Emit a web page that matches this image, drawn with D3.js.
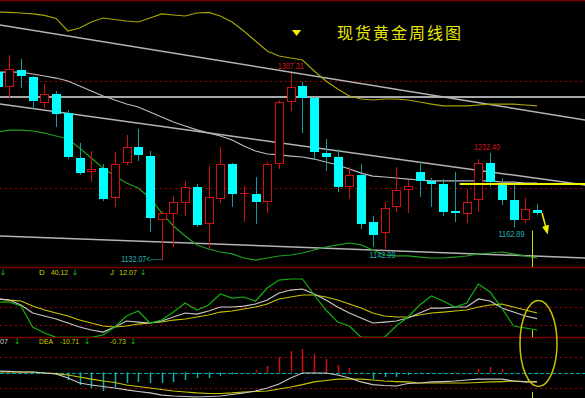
<!DOCTYPE html>
<html>
<head>
<meta charset="utf-8">
<script src="https://cdn.jsdelivr.net/npm/d3@7"></script>
<style>
html, body { margin: 0; padding: 0; background: #000; overflow: hidden; }
</style>
</head>
<body>
<div id="chart"></div>
<script>
// weekly candles, spot gold
const opens = [1308.2,1294.2,1310.1,1303.6,1279.3,1287.7,1269.9,1227.9,1214.8,1218.5,1190.5,1223.2,1238.1,1229.7,1169.9,1175.5,1185.8,1200.8,1166.2,1189.5,1222.3,1194.8,1194.2,1186.7,1222.3,1280.2,1295.2,1283.9,1232.5,1228.8,1200.8,1212.0,1168.0,1157.8,1182.1,1198.0,1214.8,1206.4,1203.6,1178.3,1175.5,1188.6,1223.2,1204.5,1188.6,1169.9,1179.3];
const highs = [1310.1,1324.1,1320.4,1304.5,1297.0,1290.5,1272.7,1241.9,1234.4,1222.3,1233.5,1249.4,1255.0,1234.4,1178.3,1192.3,1206.4,1203.6,1220.4,1238.1,1223.2,1201.7,1210.1,1224.1,1282.1,1307.31,1298.9,1284.9,1245.6,1236.3,1219.4,1222.3,1173.7,1186.7,1219.4,1207.3,1224.1,1209.2,1208.2,1214.8,1198.9,1226.9,1232.40,1209.2,1202.6,1190.5,1184.9];
const lows = [1291.4,1283.0,1293.3,1273.7,1274.6,1256.8,1226.9,1212.0,1205.4,1187.7,1182.1,1221.3,1225.1,1158.7,1132.07,1144.7,1173.7,1163.4,1143.5,1185.8,1182.1,1168.0,1166.2,1176.5,1217.6,1271.8,1251.2,1226.9,1215.7,1196.1,1189.5,1161.5,1144.7,1142.99,1177.4,1176.5,1191.4,1182.1,1173.7,1168.0,1167.1,1177.4,1200.8,1183.9,1162.89,1167.1,1174.6];
const closes = [1294.2,1311.0,1304.5,1281.1,1287.7,1269.0,1228.8,1213.8,1217.6,1189.5,1222.3,1238.1,1230.7,1171.8,1176.5,1186.7,1200.8,1165.2,1191.4,1222.3,1194.2,1195.2,1186.7,1222.3,1280.2,1294.2,1283.9,1233.5,1228.8,1200.8,1212.0,1166.2,1155.9,1181.1,1198.0,1201.7,1206.4,1203.6,1177.4,1176.5,1186.7,1223.2,1205.4,1188.6,1169.9,1180.2,1176.5];

// overlay curves on the price panel
const bandUpper = [1364.3,1363.9,1363.4,1362.5,1361.1,1358.3,1346.6,1349.4,1355.0,1358.7,1357.3,1355.9,1355.0,1358.7,1362.5,1361.5,1360.6,1363.4,1363.9,1360.6,1355.0,1346.6,1337.2,1327.9,1323.2,1321.3,1319.5,1309.2,1299.8,1292.4,1285.8,1283.0,1282.1,1283.0,1283.0,1282.1,1280.2,1278.3,1276.5,1276.5,1276.5,1277.4,1278.3,1278.3,1278.3,1277.4,1276.5];
const bandMid = [1308.2,1308.2,1308.2,1306.4,1304.5,1302.6,1299.8,1295.2,1290.5,1285.8,1282.1,1278.3,1275.5,1270.9,1266.2,1261.5,1257.8,1254.1,1251.2,1248.4,1244.7,1239.1,1234.4,1231.6,1230.7,1229.7,1228.8,1226.9,1224.1,1221.3,1217.6,1213.8,1211.0,1210.1,1209.2,1208.2,1207.3,1206.4,1206.4,1206.4,1206.4,1206.4,1206.4,1205.4,1205.4,1204.5,1204.5];
const bandLower = [1252.2,1254.0,1254.0,1253.1,1251.2,1248.4,1245.6,1237.2,1227.9,1218.5,1211.0,1204.5,1199.8,1190.5,1176.5,1164.3,1155.0,1146.6,1142.8,1140.0,1138.2,1134.4,1132.5,1134.4,1136.3,1137.2,1139.1,1141.9,1144.7,1146.6,1148.4,1146.6,1141.9,1137.2,1136.3,1136.3,1135.3,1134.4,1134.4,1135.3,1136.3,1138.2,1139.1,1140.0,1138.2,1136.3,1134.4];

// KDJ
const kVals = [63.2,61.5,53.3,40.1,35.1,30.2,23.6,17.0,12.0,8.7,17.0,26.9,25.2,23.6,26.9,33.5,40.1,38.4,43.4,50.0,50.0,51.6,54.9,61.5,73.1,78.0,79.7,71.4,61.5,50.0,40.1,31.8,23.6,25.2,26.9,31.8,40.1,48.3,48.3,50.0,50.0,63.2,59.9,48.3,41.7,35.1,30.77];
const dVals = [63.2,61.5,59.9,51.6,45.0,40.1,35.1,28.5,23.6,18.6,17.0,18.6,21.9,23.6,25.2,28.5,30.2,33.5,36.8,41.7,43.4,46.7,50.0,54.9,63.2,66.5,69.8,69.8,66.5,61.5,54.9,48.3,40.1,35.1,33.5,33.5,36.8,40.1,41.7,43.4,45.0,50.0,53.3,54.9,50.0,45.0,40.12];
const jVals = [58.2,58.2,51.6,17.0,7.1,0,0,0,0,3.8,17.0,35.1,43.4,23.6,28.5,41.7,56.6,45.0,53.3,71.4,64.8,66.5,59.9,81.3,94.5,96.2,96.2,69.8,45.0,25.2,18.6,0,0,0,18.6,33.5,53.3,68.1,59.9,50.0,56.6,87.9,74.7,48.3,18.6,15.3,12.07];

// MACD
const difVals = [1.7,1.2,0.6,0.6,-0.6,-1.7,-6.4,-12.2,-14.5,-16.3,-18.0,-20.3,-22.1,-23.8,-26.2,-27.3,-27.9,-28.5,-27.9,-27.3,-25.6,-23.8,-21.5,-18.0,-13.4,-6.4,-0.6,-0.6,-0.6,-2.9,-6.4,-11.0,-14.0,-15.1,-15.7,-12.8,-12.2,-11.0,-10.5,-9.9,-8.7,-7.6,-7.6,-7.6,-9.9,-11.0,-11.07];
const deaVals = [0.6,0.6,0.6,0.6,-0.6,-1.2,-2.9,-5.2,-7.6,-9.9,-11.6,-14.5,-16.3,-18.0,-19.8,-21.5,-22.7,-23.8,-24.4,-24.4,-23.8,-22.7,-22.1,-21.5,-19.2,-16.9,-14.0,-11.0,-9.3,-7.6,-7.6,-7.6,-8.7,-9.9,-10.5,-11.0,-12.2,-12.2,-12.2,-12.2,-12.2,-11.6,-11.0,-10.5,-9.9,-10.5,-10.71];
const macdVals = [0.3,0.5,0.5,0.2,-0.5,-1.5,-8.7,-14.5,-18.0,-21.5,-16.9,-12.2,-11.0,-12.2,-12.2,-11.0,-8.7,-6.4,-6.4,-4.0,-2.0,0.5,2.9,7.6,18.0,25.0,27.3,21.5,15.7,8.7,5.2,-0.5,-7.6,-5.2,-5.2,-2.9,-1.0,-0.5,-0.5,-0.5,0.5,4.1,6.4,4.1,-0.5,-0.8,-0.73];

// drawn trend lines: [index0, price0, index1, price1]
const trendLines = [[0.21, 1352.2, 50.1, 1263.4], [0.21, 1278.3, 50.1, 1202.6], [0.21, 1155.0, 50.1, 1134.4]];
const levelLine = 1284.9;
const yellowLevel = { from: 39.4, to: 50.1, price: 1203.6 };
const priceGrid = [1300, 1200];
const kdjGrid = [20, 50, 80];
const macdGrid = [18.6, -18.6];

let width = 585, height = 398;
let mainBottom = 267, kdjBottom = 337;

let x = d3.scaleLinear().domain([0, 46]).range([-2.5, 537]);
let y = d3.scaleLinear().domain([1132.07, 1307.31]).range([260.5, 73]);
let yK = d3.scaleLinear().domain([0, 100]).range([337.3, 276.7]);
let yM = d3.scaleLinear().domain([-30, 30]).range([398.3, 346.7]);

let svg = d3.select("#chart").append("svg")
        .attr("width", width).attr("height", height)
        .style("background", "#000").style("display", "block");

let defs = svg.append("defs");
const clip = (id, y0, y1) => defs.append("clipPath").attr("id", id)
        .append("rect").attr("x", 0).attr("y", y0).attr("width", width).attr("height", y1 - y0);
clip("cMain", 1, mainBottom);
clip("cKdj", mainBottom, kdjBottom);
clip("cMacd", kdjBottom, height);
defs.append("marker").attr("id", "arrowHead").attr("viewBox", "0 0 10 10")
        .attr("refX", 5).attr("refY", 5).attr("markerWidth", 6).attr("markerHeight", 6)
        .attr("orient", "auto")
        .append("path").attr("d", "M0,1 L10,5 L0,9 Z").attr("fill", "#f0f000");

const px = v => Math.round(v) + 0.5;

// grids and panel borders
let grid = svg.append("g");
grid.selectAll(".pg").data(priceGrid).enter().append("line")
        .attr("x1", 0).attr("x2", width).attr("y1", d => px(y(d))).attr("y2", d => px(y(d)))
        .attr("stroke", "#a00000").attr("stroke-dasharray", "2,3");
grid.selectAll(".kg").data(kdjGrid).enter().append("line")
        .attr("x1", 0).attr("x2", width).attr("y1", d => px(yK(d))).attr("y2", d => px(yK(d)))
        .attr("stroke", "#a00000").attr("stroke-dasharray", "2,3");
grid.selectAll(".mg").data(macdGrid).enter().append("line")
        .attr("x1", 0).attr("x2", width).attr("y1", d => px(yM(d))).attr("y2", d => px(yM(d)))
        .attr("stroke", "#a00000").attr("stroke-dasharray", "2,3");
grid.append("line").attr("x1", 0).attr("x2", width).attr("y1", px(yM(0))).attr("y2", px(yM(0)))
        .attr("stroke", "#00a8a8").attr("stroke-dasharray", "4,2");
[0.5, mainBottom + 0.5, kdjBottom + 0.5].forEach(v => {
        grid.append("line").attr("x1", 0).attr("x2", width).attr("y1", v).attr("y2", v)
                .attr("stroke", "#7a0000").attr("stroke-width", 1.5);
});

// price panel
let main = svg.append("g").attr("clip-path", "url(#cMain)");
let straight = d3.line().x(d => x(d[0])).y(d => y(d[1]));

main.append("line").attr("x1", x(0.21)).attr("x2", x(50.1))
        .attr("y1", y(levelLine)).attr("y2", y(levelLine))
        .attr("stroke", "#a8a8a8").attr("stroke-width", 2);
trendLines.forEach(t => {
        main.append("path").attr("d", straight([[t[0], t[1]], [t[2], t[3]]]))
                .attr("fill", "none").attr("stroke", "#b4b4b4").attr("stroke-width", 1.5);
});

let curve = arr => d3.line().x((d, i) => x(i)).y(d => y(d))(arr);
main.append("path").attr("d", curve(bandUpper)).attr("fill", "none").attr("stroke", "#a8a400").attr("stroke-width", 1.2);
main.append("path").attr("d", curve(bandMid)).attr("fill", "none").attr("stroke", "#bcbcbc").attr("stroke-width", 1.2);
main.append("path").attr("d", curve(bandLower)).attr("fill", "none").attr("stroke", "#1ea01e").attr("stroke-width", 1.2);

let candles = opens.map((o, i) => ({ i: i, o: o, h: highs[i], l: lows[i], c: closes[i], up: closes[i] >= o }));
let cg = main.append("g");
cg.selectAll(".wick").data(candles).enter().append("line")
        .attr("x1", d => px(x(d.i))).attr("x2", d => px(x(d.i)))
        .attr("y1", d => y(d.h)).attr("y2", d => y(d.l))
        .attr("stroke", d => d.up ? "#d01010" : "#109c9c").attr("stroke-width", 1);
cg.selectAll(".body").data(candles.filter(d => !d.up)).enter().append("rect")
        .attr("x", d => Math.round(x(d.i)) - 4).attr("width", 9)
        .attr("y", d => Math.round(y(d.o))).attr("height", d => Math.max(1, Math.round(y(d.c) - y(d.o))))
        .attr("fill", "#00ffff");
cg.selectAll(".hollow").data(candles.filter(d => d.up)).enter().append("rect")
        .attr("x", d => Math.round(x(d.i)) - 3.5).attr("width", 8)
        .attr("y", d => Math.round(y(d.c)) + 0.5).attr("height", d => Math.max(0.01, Math.round(y(d.o) - y(d.c)) - 1))
        .attr("fill", "#000").attr("stroke", "#d01010").attr("stroke-width", 1);

// yellow annotations
main.append("line").attr("x1", x(yellowLevel.from)).attr("x2", x(yellowLevel.to))
        .attr("y1", y(yellowLevel.price)).attr("y2", y(yellowLevel.price))
        .attr("stroke", "#f0f000").attr("stroke-width", 2);
main.append("line").attr("x1", px(x(45.57))).attr("x2", px(x(45.57)))
        .attr("y1", y(1160)).attr("y2", mainBottom)
        .attr("stroke", "#d8d800").attr("stroke-width", 1);
main.append("path").attr("d", straight([[46.43, 1176.5], [46.82, 1160.5]]))
        .attr("stroke", "#f0f000").attr("stroke-width", 1.5).attr("fill", "none")
        .attr("marker-end", "url(#arrowHead)");
main.append("path")
        .attr("d", d3.symbol(d3.symbolTriangle, 30)())
        .attr("transform", "translate(" + x(25.5) + "," + y(1345.6) + ") rotate(180) scale(1.1,0.8)")
        .attr("fill", "#f0f000");

// extreme labels (plain hyphen for minus, like the terminal)
let fmt = v => d3.format(".2f")(v).replace("\u2212", "-");
let extremes = [
        { i: 25, v: highs[25], dx: 0, dy: -4, color: "#d01818" },
        { i: 42, v: highs[42], dx: -3, dy: -3, color: "#d01818" },
        { i: 44, v: lows[44], dx: -2, dy: 9, color: "#20b0b0" },
        { i: 33, v: lows[33], dx: -2, dy: 9, color: "#20b0b0" }
];
main.selectAll(".ext").data(extremes).enter().append("text")
        .attr("x", d => x(d.i) + d.dx).attr("y", d => y(d.v) + d.dy)
        .attr("text-anchor", "middle").attr("fill", d => d.color)
        .attr("font-family", "Liberation Sans, Arial, sans-serif").attr("font-size", 9)
        .attr("textLength", 26).attr("lengthAdjust", "spacingAndGlyphs")
        .text(d => fmt(d.v));
main.append("text")
        .attr("x", x(14) + 0.5).attr("y", y(lows[14]) + 1)
        .attr("text-anchor", "end").attr("fill", "#20b0b0")
        .attr("font-family", "Liberation Sans, Arial, sans-serif").attr("font-size", 9)
        .attr("textLength", 41).attr("lengthAdjust", "spacingAndGlyphs")
        .text(fmt(lows[14]) + "<-----");

svg.append("text").attr("x", 337).attr("y", 39)
        .attr("fill", "#e6e600").attr("font-family", "Noto Sans CJK SC, sans-serif")
        .attr("font-size", 16).attr("letter-spacing", 2)
        .text("现货黄金周线图");

// KDJ panel
let kdj = svg.append("g").attr("clip-path", "url(#cKdj)");
let kLine = arr => d3.line().x((d, i) => x(i)).y(d => yK(d))(arr);
kdj.append("path").attr("d", kLine(dVals)).attr("fill", "none").attr("stroke", "#c8c400").attr("stroke-width", 1.2);
kdj.append("path").attr("d", kLine(kVals)).attr("fill", "none").attr("stroke", "#c8c8c8").attr("stroke-width", 1.2);
kdj.append("path").attr("d", kLine(jVals)).attr("fill", "none").attr("stroke", "#10b010").attr("stroke-width", 1.2);
kdj.append("line").attr("x1", px(x(45.57))).attr("x2", px(x(45.57)))
        .attr("y1", yK(12)).attr("y2", kdjBottom).attr("stroke", "#d8d800");

// MACD panel
let macd = svg.append("g").attr("clip-path", "url(#cMacd)");
macd.selectAll(".bar").data(macdVals).enter().append("line")
        .attr("x1", (d, i) => px(x(i))).attr("x2", (d, i) => px(x(i)))
        .attr("y1", yM(0)).attr("y2", d => yM(d))
        .attr("stroke", d => d >= 0 ? "#d01010" : "#10b0b0").attr("stroke-width", 1.5);
let mLine = arr => d3.line().x((d, i) => x(i)).y(d => yM(d))(arr);
macd.append("path").attr("d", mLine(deaVals)).attr("fill", "none").attr("stroke", "#c8c400").attr("stroke-width", 1.2);
macd.append("path").attr("d", mLine(difVals)).attr("fill", "none").attr("stroke", "#c8c8c8").attr("stroke-width", 1.2);
macd.append("line").attr("x1", px(x(45.57))).attr("x2", px(x(45.57)))
        .attr("y1", yM(-22.5)).attr("y2", height).attr("stroke", "#d8d800");

// ellipse around the latest KDJ / MACD readings
svg.append("ellipse").attr("cx", x(46) + 1.5).attr("cy", kdjBottom + 6.5)
        .attr("rx", 18.5).attr("ry", 43)
        .attr("fill", "none").attr("stroke", "#c8c000").attr("stroke-width", 1.5);

// indicator readouts (the K and DIFF names sit off the left edge; only the tail shows)
let last = kVals.length - 1;
let readouts = [
        { x: 39, y: 275, t: "D", c: "#d8d400" },
        { x: 51, y: 275, t: fmt(dVals[last]), c: "#d8d400", w: 17 },
        { x: 110, y: 275, t: "J", c: "#c8d400" },
        { x: 119, y: 275, t: fmt(jVals[last]), c: "#c8d400", w: 18 },
        { x: 0, y: 344, t: fmt(difVals[last]).slice(-2), c: "#d0d0d0", w: 8 },
        { x: 39, y: 344, t: "DEA", c: "#d8d400", w: 14 },
        { x: 60, y: 344, t: fmt(deaVals[last]), c: "#d8d400", w: 19 },
        { x: 110, y: 344, t: fmt(macdVals[last]), c: "#b8d400", w: 16 }
];
let ro = svg.selectAll(".ro").data(readouts).enter().append("text")
        .attr("x", d => d.x).attr("y", d => d.y)
        .attr("fill", d => d.c).attr("font-family", "Liberation Sans, Arial, sans-serif")
        .attr("font-size", 8).text(d => d.t);
ro.filter(d => d.w).attr("textLength", d => d.w).attr("lengthAdjust", "spacingAndGlyphs");
let arrows = [[3, 275], [75, 275], [143, 275], [17, 344], [87, 344], [133, 344]];
svg.selectAll(".arr").data(arrows).enter().append("text")
        .attr("x", d => d[0]).attr("y", d => d[1]).attr("fill", "#10c010")
        .attr("font-family", "DejaVu Sans, sans-serif").attr("font-size", 8)
        .attr("text-anchor", "middle").text("↓");
</script>
</body>
</html>
